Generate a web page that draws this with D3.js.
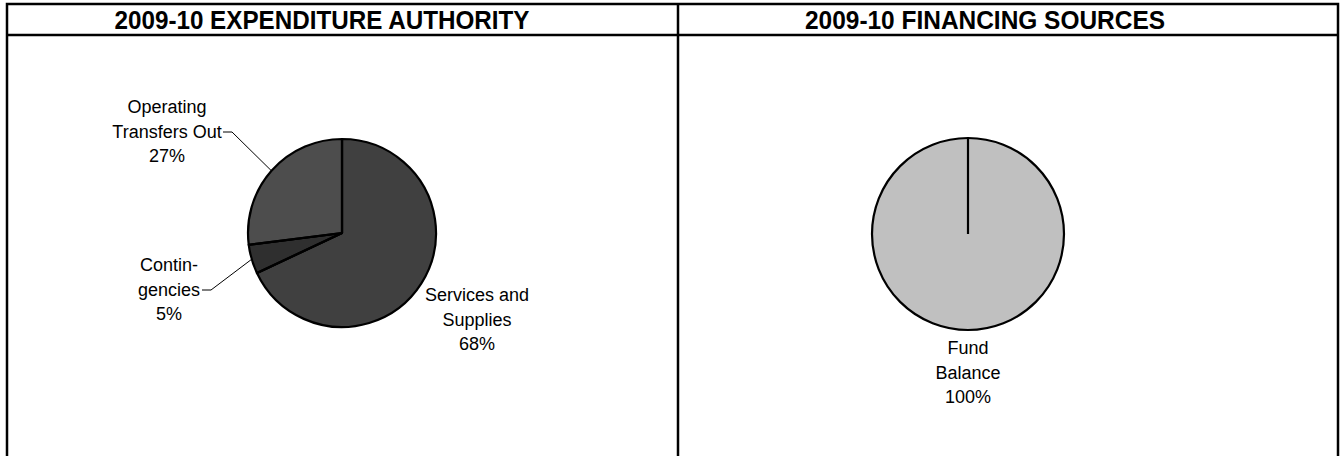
<!DOCTYPE html>
<html>
<head>
<meta charset="utf-8">
<script src="https://cdn.jsdelivr.net/npm/d3@7"></script>
<style>
  html, body { margin: 0; padding: 0; background: #fff; }
  svg { display: block; font-family: "Liberation Sans", Arial, sans-serif; }
</style>
</head>
<body>
<svg id="chart" width="1340" height="456"></svg>
<script>
// chart data
const titles = ["2009-10 EXPENDITURE AUTHORITY", "2009-10 FINANCING SOURCES"];

const expCategories = ["Services and Supplies", "Contingencies", "Operating Transfers Out"];
const expLabels = [["Services and", "Supplies"], ["Contin-", "gencies"], ["Operating", "Transfers Out"]];
const expValues = [68, 5, 27];
const expColors = ["#404040", "#2f2f2f", "#4d4d4d"];

const finCategories = ["Fund Balance"];
const finLabels = [["Fund", "Balance"]];
const finValues = [100];
const finColors = ["#c0c0c0"];

const svg = d3.select("#chart");

// frame
const frameLeft = 7, frameTop = 4, frameRight = 1338, frameBottom = 470, headerY = 35, midX = 678;
const frame = svg.append("g").attr("stroke", "#000").attr("stroke-width", 2.5).attr("fill", "none");
frame.append("rect").attr("x", frameLeft).attr("y", frameTop)
  .attr("width", frameRight - frameLeft).attr("height", frameBottom - frameTop);
frame.append("line").attr("x1", frameLeft).attr("x2", frameRight).attr("y1", headerY).attr("y2", headerY);
frame.append("line").attr("x1", midX).attr("x2", midX).attr("y1", frameTop).attr("y2", frameBottom);

// titles (narrow bold, like the original header font)
const titleCenters = [322, 985];
const titleWidths = [415, 360];
svg.selectAll("text.title")
  .data(titles)
  .enter()
  .append("text")
  .attr("class", "title")
  .attr("x", (d, i) => titleCenters[i] - titleWidths[i] / 2)
  .attr("y", 29)
  .attr("textLength", (d, i) => titleWidths[i])
  .attr("lengthAdjust", "spacingAndGlyphs")
  .style("font-weight", "bold")
  .style("font-size", "26px")
  .text(d => d);

const pie = d3.pie().sort(null).value(d => d);

function edgePoint(a, r) {
  return [Math.sin(a) * r, -Math.cos(a) * r];
}

function drawPie(cx, cy, radius, values, colors, labels, layout) {
  const g = svg.append("g").attr("transform", "translate(" + cx + "," + cy + ")");
  const arcs = pie(values);
  const arc = d3.arc().innerRadius(0).outerRadius(radius);

  g.selectAll("path")
    .data(arcs)
    .enter()
    .append("path")
    .attr("d", arc)
    .attr("fill", (d, i) => colors[i])
    .attr("stroke", "#000")
    .attr("stroke-width", 2.2)
    .attr("stroke-linejoin", "round");

  // radial edge at each slice start (needed for the full 100% slice)
  g.selectAll("line.edge")
    .data(arcs)
    .enter()
    .append("line")
    .attr("class", "edge")
    .attr("x1", 0).attr("y1", 0)
    .attr("x2", d => edgePoint(d.startAngle, radius)[0])
    .attr("y2", d => edgePoint(d.startAngle, radius)[1])
    .attr("stroke", "#000")
    .attr("stroke-width", 2.2);

  arcs.forEach((d, i) => {
    const lay = layout[i];
    const lines = labels[i].concat([Math.round(d.data) + "%"]);
    const t = g.append("text")
      .attr("text-anchor", "middle")
      .style("font-size", "18px")
      .attr("fill", "#000");
    lines.forEach((ln, k) => {
      t.append("tspan")
        .attr("x", lay.x)
        .attr("y", lay.y + k * 24.5)
        .text(ln);
    });

    if (lay.leader) {
      const mid = (d.startAngle + d.endAngle) / 2;
      const p = edgePoint(mid, radius);
      const lx = lay.leader[0], ly = lay.leader[1];
      g.append("polyline")
        .attr("points", [[lx, ly], [lx + 9, ly], p].map(q => q.join(",")).join(" "))
        .attr("fill", "none")
        .attr("stroke", "#000")
        .attr("stroke-width", 1);
    }
  });
}

// label placement relative to pie centre (layout only)
drawPie(342, 233, 94, expValues, expColors, expLabels, [
  { x: 135, y: 68 },
  { x: -173, y: 38, leader: [-140, 57] },
  { x: -175, y: -120, leader: [-119, -101] }
]);

drawPie(968, 234, 96, finValues, finColors, finLabels, [
  { x: 0, y: 120 }
]);
</script>
</body>
</html>
